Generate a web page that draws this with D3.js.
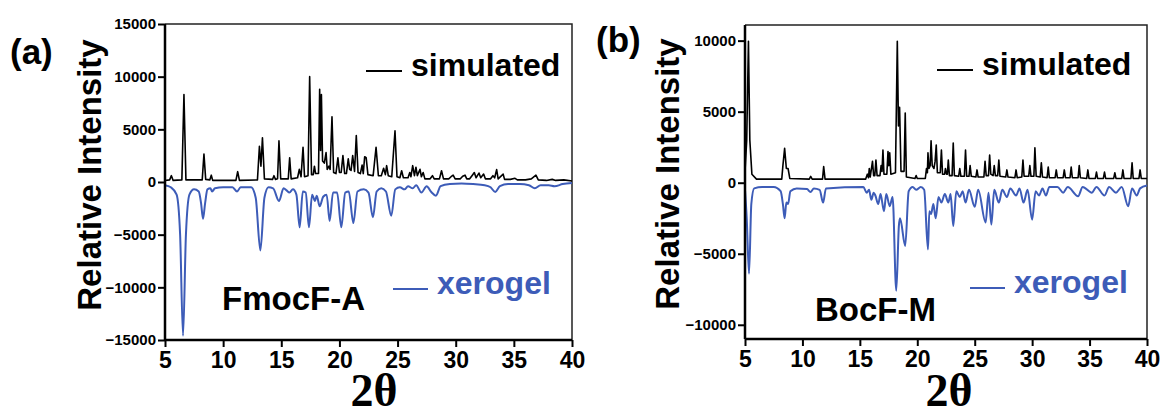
<!DOCTYPE html>
<html>
<head>
<meta charset="utf-8">
<script src="https://cdn.jsdelivr.net/npm/d3@7"></script>
<style>
  body { margin: 0; background: #fff; }
  text { font-family: "Liberation Sans", Arial, sans-serif; font-weight: bold; }
</style>
</head>
<body>
<div id="chart"></div>
<script>
// XRD patterns, [2theta, intensity]
const simA = [[5,150],[5.4,200],[5.55,600],[5.7,150],[6.45,200],[6.63,8300],[6.8,200],[8.2,200],[8.35,2650],[8.5,250],[8.85,200],[8.98,650],[9.1,150],[11.1,150],[11.25,980],[11.4,150],[12.95,200],[13.12,3400],[13.25,1500],[13.38,4200],[13.55,300],[14.25,250],[14.37,600],[14.5,250],[14.68,300],[14.8,3900],[14.95,300],[15.6,300],[15.72,2300],[15.85,300],[16.4,400],[16.55,1200],[16.7,500],[16.87,3300],[17.0,500],[17.3,600],[17.44,10000],[17.6,700],[17.75,700],[17.85,1500],[17.95,800],[18.2,800],[18.3,8800],[18.38,3000],[18.45,8300],[18.55,2000],[18.7,1800],[18.85,2800],[18.95,1200],[19.1,1500],[19.2,1200],[19.36,6200],[19.5,900],[19.7,800],[19.87,2300],[20.0,900],[20.15,900],[20.3,2500],[20.45,800],[20.6,800],[20.76,2200],[20.88,1200],[21.0,1100],[21.14,2500],[21.3,1000],[21.45,4400],[21.6,900],[21.8,800],[21.95,1600],[22.05,800],[22.17,2400],[22.3,2300],[22.45,700],[22.9,600],[23.15,3300],[23.35,600],[23.6,600],[23.8,1300],[23.95,700],[24.06,1550],[24.2,600],[24.5,500],[24.78,4850],[24.95,500],[25.2,400],[25.35,1070],[25.5,400],[25.9,400],[26.05,900],[26.15,500],[26.3,1550],[26.45,600],[26.58,1400],[26.7,600],[26.93,1200],[27.05,500],[27.2,900],[27.35,300],[27.8,300],[28.0,600],[28.15,300],[28.6,300],[28.78,1070],[28.95,300],[29.4,300],[29.6,500],[29.78,650],[29.95,300],[30.4,300],[30.6,550],[30.8,650],[30.95,300],[31.2,300],[31.4,600],[31.6,900],[31.75,400],[32.0,850],[32.15,400],[32.4,750],[32.55,300],[33.0,300],[33.2,600],[33.35,400],[33.52,1180],[33.65,300],[34.08,750],[34.2,250],[34.7,250],[35.1,350],[35.3,200],[36.0,200],[36.5,300],[36.9,650],[37.1,200],[37.8,150],[38.3,250],[38.6,150],[39.3,200],[40,100]];

const xerA = [[5.0,-300],[5.5,-500],[6.0,-1200],[6.3,-5000],[6.55,-14600],[6.8,-5000],[7.1,-1200],[7.5,-700],[7.9,-900],[8.1,-2000],[8.27,-3500],[8.45,-2000],[8.65,-700],[8.9,-600],[9.05,-900],[9.3,-600],[10,-500],[10.8,-500],[11.2,-900],[11.5,-500],[12.4,-500],[12.8,-1500],[13.2,-6500],[13.55,-1500],[13.9,-500],[14.3,-600],[14.8,-1800],[15.2,-600],[15.45,-800],[15.7,-1000],[16.0,-700],[16.3,-1200],[16.58,-4300],[16.85,-900],[17.1,-1000],[17.38,-4300],[17.65,-1200],[17.9,-1800],[18.05,-1300],[18.3,-2300],[18.6,-1400],[18.9,-1200],[19.16,-3700],[19.45,-1000],[19.8,-1000],[20.16,-4300],[20.5,-1000],[20.8,-900],[21.2,-3900],[21.55,-900],[22.1,-700],[22.5,-1000],[22.88,-3350],[23.2,-900],[23.6,-600],[24.0,-900],[24.46,-3200],[24.8,-700],[25.2,-500],[25.6,-700],[25.9,-400],[26.3,-600],[26.6,-300],[27.05,-1000],[27.5,-400],[27.9,-950],[28.3,-1300],[28.7,-400],[29.5,-200],[30.5,-150],[31.5,-200],[32.5,-300],[33.0,-500],[33.4,-950],[33.8,-400],[34.5,-200],[35.5,-200],[36.3,-300],[36.8,-600],[37.3,-300],[38.0,-300],[38.5,-400],[39.2,-200],[40,-100]];

const simB = [[5,800],[5.15,3000],[5.3,9950],[5.42,3000],[5.6,600],[6.0,250],[8.2,250],[8.3,1200],[8.45,2420],[8.6,1000],[8.75,1000],[8.9,300],[10.6,250],[10.72,440],[10.85,250],[11.75,250],[11.85,1140],[11.97,250],[15.5,250],[15.65,600],[15.75,350],[15.82,1000],[15.9,400],[16.1,1500],[16.2,500],[16.3,500],[16.4,1600],[16.5,500],[16.75,500],[16.85,1200],[16.93,800],[17.01,2300],[17.1,600],[17.35,600],[17.45,2200],[17.52,1200],[17.6,2100],[17.7,600],[18.1,700],[18.26,9950],[18.36,4000],[18.46,5300],[18.58,800],[18.85,800],[18.95,4900],[19.05,400],[19.8,300],[19.9,500],[20.0,300],[20.7,300],[20.8,1000],[20.88,700],[20.93,2100],[21.02,1000],[21.12,1200],[21.2,2950],[21.3,1200],[21.45,1000],[21.55,1500],[21.65,2650],[21.75,700],[22.0,700],[22.1,2300],[22.2,600],[22.38,600],[22.45,1000],[22.55,600],[22.62,600],[22.7,1600],[22.8,500],[23.03,500],[23.13,2800],[23.23,500],[23.6,450],[23.7,1000],[23.8,450],[24.1,450],[24.2,2300],[24.3,450],[24.5,450],[24.6,1200],[24.7,450],[25.1,400],[25.2,900],[25.3,400],[25.8,400],[25.9,1500],[26.0,500],[26.2,500],[26.3,1950],[26.4,600],[26.6,500],[26.7,1200],[26.8,500],[27.0,500],[27.1,1600],[27.2,450],[27.7,400],[27.8,900],[27.9,400],[28.5,350],[28.6,900],[28.7,350],[29.1,400],[29.2,1600],[29.3,450],[29.7,450],[29.8,1200],[29.9,450],[30.15,450],[30.24,2450],[30.35,450],[30.7,400],[30.8,1400],[30.9,400],[31.3,350],[31.4,1100],[31.5,350],[32.0,350],[32.1,900],[32.2,350],[32.7,350],[32.8,900],[32.9,350],[33.3,350],[33.4,1100],[33.5,350],[34.0,350],[34.1,1200],[34.2,350],[34.75,300],[34.85,900],[34.95,300],[35.5,300],[35.6,750],[35.7,300],[36.2,300],[36.3,750],[36.4,300],[37.1,300],[37.2,700],[37.3,300],[37.8,300],[37.9,900],[38.0,300],[38.6,300],[38.7,1400],[38.8,300],[39.3,300],[39.4,900],[39.5,300],[40,300]];

const xerB = [[5.0,-500],[5.15,-2500],[5.35,-6400],[5.55,-1500],[5.8,-400],[6.5,-300],[7.5,-300],[8.1,-600],[8.3,-1500],[8.45,-2500],[8.6,-1400],[8.75,-1500],[8.95,-600],[9.5,-400],[10.4,-450],[10.7,-650],[11.0,-400],[11.5,-500],[11.8,-1400],[12.05,-400],[15.3,-300],[15.6,-700],[15.8,-500],[16.0,-1200],[16.2,-700],[16.35,-900],[16.6,-1500],[16.8,-800],[17.1,-2000],[17.3,-800],[17.6,-1650],[17.85,-1000],[18.17,-7600],[18.4,-3000],[18.5,-2500],[18.95,-4450],[19.25,-600],[19.6,-300],[19.9,-500],[20.3,-300],[20.6,-500],[20.93,-4700],[21.05,-2000],[21.2,-2200],[21.4,-1500],[21.6,-2500],[21.85,-1000],[22.1,-1400],[22.4,-800],[22.7,-1400],[22.9,-800],[23.13,-3050],[23.4,-600],[23.7,-1000],[23.95,-600],[24.2,-1400],[24.5,-500],[25.0,-1700],[25.3,-500],[25.95,-2800],[26.2,-700],[26.45,-2950],[26.7,-500],[27.1,-1400],[27.4,-500],[27.8,-1000],[28.1,-400],[28.6,-900],[28.9,-400],[29.25,-1400],[29.6,-500],[30.0,-2600],[30.3,-600],[30.6,-900],[30.9,-400],[31.2,-900],[31.5,-300],[32.2,-300],[32.7,-700],[33.1,-300],[34.0,-950],[34.4,-300],[35.2,-700],[35.6,-300],[36.3,-900],[36.7,-300],[37.3,-700],[37.8,-300],[38.36,-1650],[38.7,-400],[39.1,-900],[39.4,-400],[40,-200]];

const xTicks = [5, 10, 15, 20, 25, 30, 35, 40];
const yTicksA = [-15000, -10000, -5000, 0, 5000, 10000, 15000];
const yTicksB = [-10000, -5000, 0, 5000, 10000];

const blue = '#3d5cb8';

const svg = d3.select('#chart')
  .append('svg')
  .attr('width', 1165)
  .attr('height', 417);

function drawPanel(p) {
  const x = d3.scaleLinear().domain([5, 40]).range([p.left, p.right]);
  const y = d3.scaleLinear().domain(p.yDomain).range([p.bottom, p.top]);
  const g = svg.append('g');

  // frame: thin top/right
  g.append('path')
    .attr('d', `M${p.left},${p.top}H${p.right}V${p.bottom}`)
    .attr('fill', 'none').attr('stroke', '#222').attr('stroke-width', 1.5);

  g.append('path').datum(p.xer)
    .attr('d', d3.line().x(d => x(d[0])).y(d => y(d[1])).curve(d3.curveMonotoneX))
    .attr('fill', 'none').attr('stroke', blue).attr('stroke-width', 2);

  g.append('path').datum(p.sim)
    .attr('d', d3.line().x(d => x(d[0])).y(d => y(d[1])))
    .attr('fill', 'none').attr('stroke', '#000').attr('stroke-width', 1.6)
    .attr('stroke-linejoin', 'round');

  const yAxis = g.append('g')
    .attr('transform', `translate(${p.left},0)`)
    .call(d3.axisLeft(y).tickValues(p.yTicks).tickSize(7).tickPadding(2).tickFormat(d3.format('d')));
  yAxis.select('.domain').attr('stroke-width', 2.5).attr('d', `M0,${p.top}V${p.bottom}`);
  yAxis.selectAll('.tick line').attr('stroke-width', 2);
  yAxis.selectAll('.tick text').attr('font-size', 15).attr('font-family', '"Liberation Sans", Arial, sans-serif');

  const xAxis = g.append('g')
    .attr('transform', `translate(0,${p.bottom})`)
    .call(d3.axisBottom(x).tickValues(xTicks).tickSize(7).tickPadding(5));
  xAxis.select('.domain').attr('stroke-width', 2.5).attr('d', `M${p.left},0H${p.right}`);
  xAxis.selectAll('.tick line').attr('stroke-width', 2);
  xAxis.selectAll('.tick text').attr('font-size', 23).attr('font-family', '"Liberation Sans", Arial, sans-serif');

  // panel letter
  g.append('text').attr('x', p.tagX).attr('y', p.tagY).attr('font-size', 35).text(p.tag);

  // y title
  g.append('text')
    .attr('transform', `translate(${p.yTitleX},${p.yTitleY}) rotate(-90)`)
    .attr('text-anchor', 'middle').attr('font-size', 33)
    .text('Relative Intensity');

  // x title
  g.append('text')
    .attr('x', p.xTitleX).attr('y', 406)
    .attr('text-anchor', 'middle')
    .style('font-family', '"Liberation Serif", "Times New Roman", serif')
    .attr('font-size', 46)
    .text('2θ');

  // legend
  g.append('line').attr('x1', p.simLeg[0]).attr('x2', p.simLeg[0] + 36)
    .attr('y1', p.simLeg[1] - 5).attr('y2', p.simLeg[1] - 5)
    .attr('stroke', '#000').attr('stroke-width', 2);
  g.append('text').attr('x', p.simLeg[0] + 45).attr('y', p.simLeg[1])
    .attr('font-size', 32).text('simulated');

  g.append('line').attr('x1', p.xerLeg[0]).attr('x2', p.xerLeg[0] + 35)
    .attr('y1', p.xerLeg[1] - 5).attr('y2', p.xerLeg[1] - 5)
    .attr('stroke', blue).attr('stroke-width', 2);
  g.append('text').attr('x', p.xerLeg[0] + 44).attr('y', p.xerLeg[1])
    .attr('font-size', 32).attr('fill', blue).text('xerogel');

  g.append('text').attr('x', p.nameX).attr('y', p.nameY)
    .attr('font-size', 33).text(p.name);
}

drawPanel({
  left: 165, right: 572, top: 24, bottom: 340,
  yDomain: [-15000, 15000], yTicks: yTicksA,
  sim: simA, xer: xerA,
  tag: '(a)', tagX: 10, tagY: 64,
  yTitleX: 101, yTitleY: 175, xTitleX: 374,
  simLeg: [366, 76], xerLeg: [393, 294],
  name: 'FmocF-A', nameX: 222, nameY: 310
});

drawPanel({
  left: 745, right: 1147, top: 25, bottom: 339,
  yDomain: [-11000, 11100], yTicks: yTicksB,
  sim: simB, xer: xerB,
  tag: '(b)', tagX: 596, tagY: 52,
  yTitleX: 679, yTitleY: 174, xTitleX: 949,
  simLeg: [937, 75], xerLeg: [970, 293],
  name: 'BocF-M', nameX: 815, nameY: 321
});
</script>
</body>
</html>
